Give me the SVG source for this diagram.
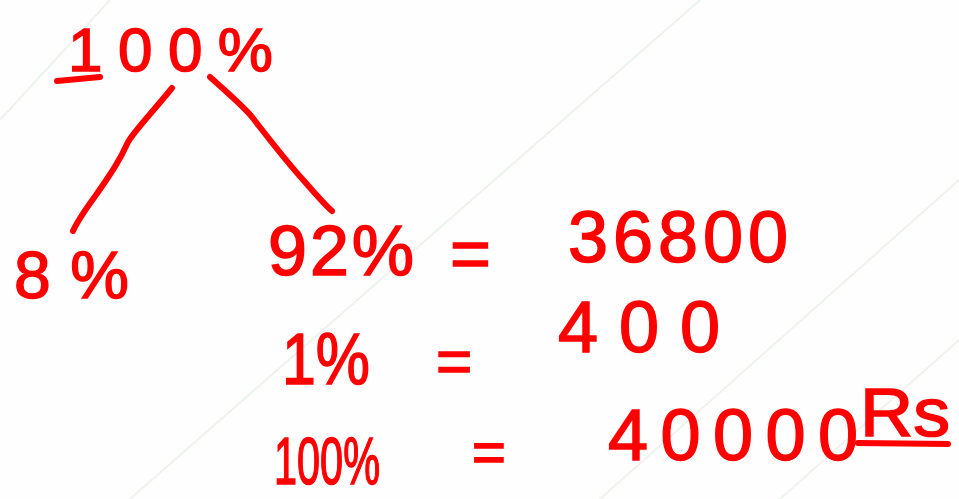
<svg xmlns="http://www.w3.org/2000/svg" width="959" height="499" viewBox="0 0 959 499">
<style>
.t{font-family:"Liberation Sans",Arial,sans-serif;fill:#ff0000;stroke:#ff0000;stroke-width:1.5}
.ln{fill:none;stroke:#ff0000;stroke-width:6;stroke-linecap:round;stroke-linejoin:round}
.bg{stroke:#eef3ee;stroke-width:2}
</style>
<rect width="959" height="499" fill="#fdfefd"/>
<g id="background">
<line class="bg" x1="0" y1="120" x2="110" y2="0"/>
<line class="bg" x1="130" y1="499" x2="700" y2="0"/>
<line class="bg" x1="600" y1="499" x2="959" y2="180"/>
<line class="bg" x1="780" y1="499" x2="959" y2="340"/>
</g>
<g id="connectors">
<path class="ln" d="M172,88 C150,115 135,130 128,142 C120,160 112,172 96,195 C85,210 78,220 73,231"/>
<path class="ln" d="M210,77 C230,95 245,108 252,117 C270,140 285,160 305,182 C318,197 325,205 332,211"/>
</g>
<g id="n100">
<text class="t" x="68" y="71" font-size="62" textLength="205" lengthAdjust="spacing">100%</text>
<path class="ln" d="M57,81 L100,77"/>
</g>
<g id="n8">
<text class="t" x="14" y="298" font-size="66" textLength="115" lengthAdjust="spacing">8%</text>
</g>
<g id="n92">
<text class="t" x="268" y="275" font-size="70" textLength="146" lengthAdjust="spacing">92%</text>
<text class="t" x="450" y="278" font-size="70">=</text>
<text class="t" x="568" y="262" font-size="72" textLength="220" lengthAdjust="spacing">36800</text>
</g>
<g id="n1">
<text class="t" x="282" y="384" font-size="72" textLength="88" lengthAdjust="spacingAndGlyphs">1%</text>
<text class="t" x="436" y="382" font-size="62">=</text>
<text class="t" x="558" y="352" font-size="72" textLength="162" lengthAdjust="spacing">400</text>
</g>
<g id="n100b">
<text class="t" x="274" y="484" font-size="66" textLength="106" lengthAdjust="spacingAndGlyphs">100%</text>
<text class="t" x="472" y="472" font-size="58">=</text>
<text class="t" x="608" y="460" font-size="72" textLength="250" lengthAdjust="spacing">40000</text>
<text class="t" x="860" y="436" font-size="68" textLength="90" lengthAdjust="spacingAndGlyphs">Rs</text>
<path class="ln" d="M858,443 L948,444"/>
</g>
</svg>
